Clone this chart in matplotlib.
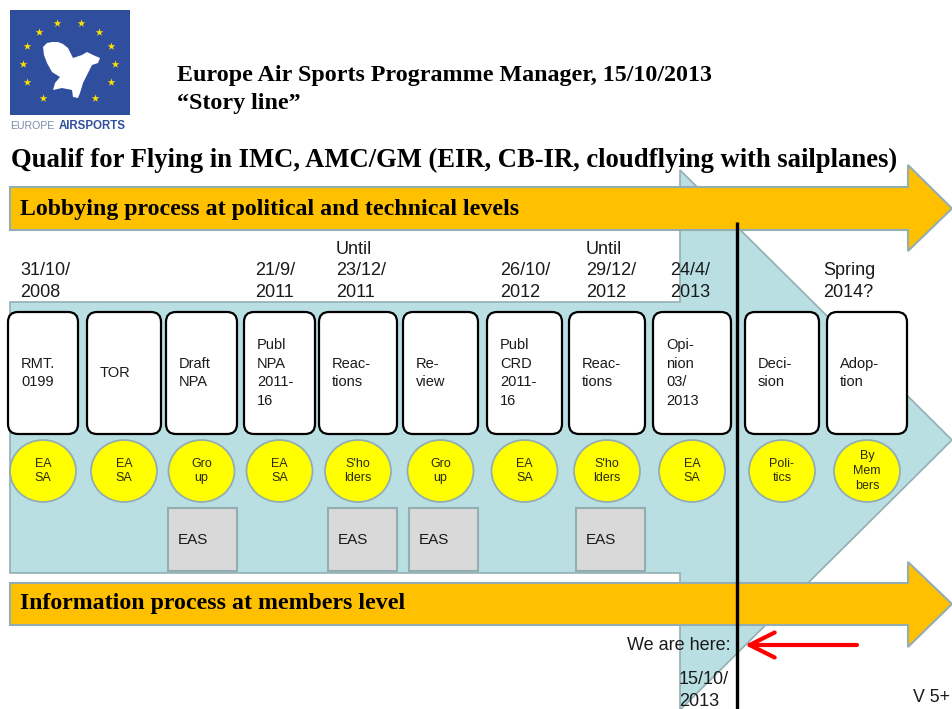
import matplotlib
matplotlib.use("Agg")
import matplotlib.pyplot as plt
from matplotlib.patches import Polygon, FancyBboxPatch, Ellipse, Rectangle
import numpy as np

# ---------------- data ----------------
header_line1 = "Europe Air Sports Programme Manager, 15/10/2013"
header_line2 = "\u201cStory line\u201d"
title = "Qualif for Flying in IMC, AMC/GM (EIR, CB-IR, cloudflying with sailplanes)"
lobby_label = "Lobbying process at political and technical levels"
info_label = "Information process at members level"

steps = ["RMT.\n0199", "TOR", "Draft\nNPA", "Publ\nNPA\n2011-\n16", "Reac-\ntions",
         "Re-\nview", "Publ\nCRD\n2011-\n16", "Reac-\ntions", "Opi-\nnion\n03/\n2013",
         "Deci-\nsion", "Adop-\ntion"]
dates = ["31/10/\n2008", "", "", "21/9/\n2011", "Until\n23/12/\n2011", "",
         "26/10/\n2012", "Until\n29/12/\n2012", "24/4/\n2013", "", "Spring\n2014?"]
actors = ["EA\nSA", "EA\nSA", "Gro\nup", "EA\nSA", "S'ho\nlders", "Gro\nup",
          "EA\nSA", "S'ho\nlders", "EA\nSA", "Poli-\ntics", "By\nMem\nbers"]
eas_involved = [False, False, True, False, True, True, False, True, False, False, False]
eas_label = "EAS"
now_label = "We are here:"
now_date = "15/10/\n2013"
version = "V 5+"
logo_words = ["EUROPE", "AIRSPORTS"]

# ---------------- layout (pixels) ----------------
box_left = [8, 87, 166, 244, 319, 403, 487, 569, 653, 745, 827]
box_right = [78, 161, 237, 315, 397, 478, 562, 645, 731, 819, 907]
date_x = [20, 0, 0, 255, 336, 0, 500, 586, 670, 0, 823]
now_x = 737
star_angles = np.radians([75, 105, 130, 50, 155, 25, 180, 0, 205, 335, 235, 305])

W, H = 953, 709
fig = plt.figure(figsize=(W / 100, H / 100), dpi=100)
ax = fig.add_axes([0, 0, 1, 1])
ax.set_xlim(0, W)
ax.set_ylim(H, 0)
ax.axis("off")

SANS = ["Liberation Sans", "DejaVu Sans"]
SERIF = ["Liberation Serif", "DejaVu Serif"]
edge = "#93AEB2"
orange = "#FFC000"
lblue = "#B9DFE2"
txt = "#1A1A1A"

# ---------------- logo ----------------
ax.add_patch(Rectangle((10, 10), 120, 105, facecolor="#2F4F9E", edgecolor="none", zorder=1))
ax.scatter(69 + 46 * np.cos(star_angles), 64 - 42 * np.sin(star_angles), marker="*", s=34,
           color="#FFE000", zorder=2, linewidths=0)
eagle = [(43, 47), (47, 43), (52, 42), (58, 42), (63, 44), (68, 48), (73, 58), (82, 55),
         (87, 52), (93, 55), (100, 58), (98, 63), (92, 65), (88, 73), (83, 83), (80, 93),
         (78, 98), (73, 97), (72, 90), (62, 88), (53, 90), (55, 83), (60, 77), (52, 72),
         (47, 63), (44, 55)]
ax.add_patch(Polygon(eagle, closed=True, facecolor="white", edgecolor="none", zorder=2))
ax.text(10, 126, logo_words[0], fontsize=7.6, color="#7C8AA8", family=SANS, va="center", ha="left")
ax.text(59, 126, logo_words[1], fontsize=8.3, color="#2F4F9E", family=SANS, fontweight="bold",
        va="center", ha="left")

# ---------------- header ----------------
ax.text(177, 75, header_line1, fontsize=17.3, fontweight="bold", family=SERIF, va="center", ha="left")
ax.text(177, 104, header_line2, fontsize=17.3, fontweight="bold", family=SERIF, va="center", ha="left")
ax.text(11, 160, title, fontsize=19.2, fontweight="bold", family=SERIF, va="center", ha="left")

# ---------------- big light-blue arrow ----------------
blue = [(10, 302), (680, 302), (680, 170), (952, 440), (680, 710), (680, 573), (10, 573)]
ax.add_patch(Polygon(blue, closed=True, facecolor=lblue, edgecolor=edge, lw=1.2, zorder=2))


def block_arrow(x0, y0, y1, xh, yh0, yh1, xt):
    yc = (y0 + y1) / 2
    return [(x0, y0), (xh, y0), (xh, yh0), (xt, yc), (xh, yh1), (xh, y1), (x0, y1)]


# ---------------- steps ----------------
for i, s in enumerate(steps):
    l, r = box_left[i], box_right[i]
    ax.add_patch(FancyBboxPatch((l + 3, 315), r - l - 6, 116,
                                boxstyle="round,pad=3,rounding_size=10",
                                facecolor="white", edgecolor="black", lw=1.6, zorder=3))
    ax.text(l + 13, 373, s, fontsize=10.5, family=SANS, va="center", ha="left",
            color=txt, linespacing=1.43, zorder=4)
    cx = (l + r) / 2
    ax.add_patch(Ellipse((cx, 471), 66, 62, facecolor="#FFFF00", edgecolor=edge, lw=1.3, zorder=3))
    ax.text(cx, 471, actors[i], fontsize=9, family=SANS, va="center", ha="center",
            color="#2A2A10", linespacing=1.3, zorder=4)
    if eas_involved[i]:
        ax.add_patch(Rectangle((r - 69, 508), 69, 63, facecolor="#D9D9D9",
                               edgecolor=edge, lw=1.5, zorder=3))
        ax.text(r - 59, 540, eas_label, fontsize=11, family=SANS, va="center", ha="left",
                color=txt, zorder=4)
    if dates[i]:
        ax.text(date_x[i], 301, dates[i], fontsize=13, family=SANS, va="bottom", ha="left",
                color=txt, linespacing=1.36, zorder=6)

# ---------------- orange arrows ----------------
ax.add_patch(Polygon(block_arrow(10, 187, 230, 908, 165, 251, 952), closed=True,
                     facecolor=orange, edgecolor=edge, lw=1.5, zorder=5))
ax.text(20, 209, lobby_label, fontsize=17.2, fontweight="bold", family=SERIF,
        va="center", ha="left", zorder=6)
ax.add_patch(Polygon(block_arrow(10, 583, 625, 908, 562, 647, 952), closed=True,
                     facecolor=orange, edgecolor=edge, lw=1.5, zorder=5))
ax.text(20, 604, info_label, fontsize=17.2, fontweight="bold", family=SERIF,
        va="center", ha="left", zorder=6)

# ---------------- "now" marker ----------------
ax.plot([now_x, now_x], [222, H + 5], color="black", lw=2.4, zorder=7, solid_capstyle="butt")
ax.text(731, 645, now_label, fontsize=13, family=SANS, va="center", ha="right",
        color=txt, zorder=8)
ax.annotate("", xy=(745, 645), xytext=(857, 645),
            arrowprops=dict(arrowstyle="->,head_length=0.9,head_width=0.45", color="red",
                            lw=3.0, mutation_scale=20, shrinkA=0, shrinkB=0), zorder=8)
ax.text(679, 710, now_date, fontsize=13, family=SANS, va="bottom", ha="left",
        color=txt, linespacing=1.36, zorder=8)
ax.text(950, 698, version, fontsize=12.8, family=SANS, va="center", ha="right",
        color=txt, zorder=8)

fig.savefig("out.png", dpi=100)
